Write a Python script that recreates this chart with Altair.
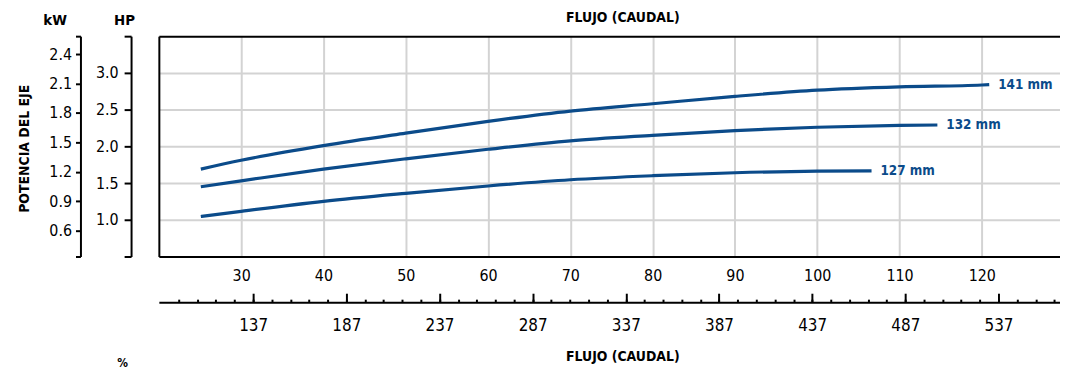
import altair as alt
import pandas as pd

# ---- data ----
diameters = ["141 mm", "132 mm", "127 mm"]
flow_141 = [25.1, 30, 40, 50, 60, 70, 80, 90, 100, 110, 120, 120.9]
hp_141 = [1.69, 1.81, 2.01, 2.18, 2.34, 2.48, 2.58, 2.68, 2.765, 2.81, 2.835, 2.84]
flow_132 = [25.1, 30, 40, 50, 60, 70, 80, 90, 100, 110, 114.6]
hp_132 = [1.45, 1.53, 1.69, 1.83, 1.96, 2.075, 2.15, 2.215, 2.26, 2.285, 2.29]
flow_127 = [25.1, 30, 40, 50, 60, 70, 80, 90, 100, 106.6]
hp_127 = [1.045, 1.115, 1.25, 1.36, 1.46, 1.545, 1.60, 1.64, 1.663, 1.667]

flow_ticks = [30, 40, 50, 60, 70, 80, 90, 100, 110, 120]
hp_ticks = [1.0, 1.5, 2.0, 2.5, 3.0]
kw_ticks = [0.6, 0.9, 1.2, 1.5, 1.8, 2.1, 2.4]
alt_ticks = [137, 187, 237, 287, 337, 387, 437, 487, 537]
alt_minor = list(range(97, 568, 10))

flow_domain = [20, 129.5]
hp_domain = [0.5, 3.5]
kw_domain = [0.333, 2.586]
alt_domain = [86.4, 570.0]

FONT = "DejaVu Sans Condensed, Liberation Sans Narrow, sans-serif"
BLUE = "#0b4b8a"
GRID = "#d3d3d3"

rows = []
for name, fx, hy in zip(diameters, [flow_141, flow_132, flow_127], [hp_141, hp_132, hp_127]):
    for f, h in zip(fx, hy):
        rows.append({"diam": name, "flow": f, "hp": h})
curves = pd.DataFrame(rows)
ends = curves.groupby("diam", as_index=False).last()


def fscale():
    return alt.Scale(domain=flow_domain, nice=False, zero=False)


def hscale():
    return alt.Scale(domain=hp_domain, nice=False, zero=False)


lines = alt.Chart(curves).mark_line(color=BLUE, strokeWidth=3.2, interpolate="monotone").encode(
    x=alt.X("flow:Q", scale=fscale(), axis=alt.Axis(
        orient="bottom", values=flow_ticks, ticks=False, domain=True, domainColor="black",
        domainWidth=2, labelPadding=19, labelBaseline="middle", labelFont=FONT,
        labelFontSize=16, labelColor="black", grid=True, gridColor=GRID, gridWidth=2,
        title=None)),
    y=alt.Y("hp:Q", scale=hscale(), axis=alt.Axis(
        orient="left", offset=28, values=[0.5] + hp_ticks + [3.5],
        labelExpr="datum.value < 0.9 || datum.value > 3.1 ? '' : format(datum.value, '.1f')",
        tickSize=7, tickWidth=2, tickColor="black", domainColor="black", domainWidth=2,
        grid=False, labelFont=FONT, labelFontSize=16, labelColor="black", labelPadding=6,
        title="HP", titleAngle=0, titleX=-7, titleY=-17, titleAlign="center",
        titleBaseline="middle", titleFont=FONT, titleFontSize=15, titleFontWeight="bold",
        titleColor="black")),
    detail="diam:N",
)

texts = alt.Chart(ends).mark_text(color=BLUE, font=FONT, fontSize=13.5, fontWeight="bold",
                                  align="left", baseline="middle", dx=9).encode(
    x=alt.X("flow:Q", scale=fscale(), axis=None),
    y=alt.Y("hp:Q", scale=hscale(), axis=None),
    text="diam:N",
)

frame_df = pd.DataFrame({"hp": hp_ticks, "flow": flow_ticks[:5]})
frame = alt.Chart(frame_df).mark_point(opacity=0).encode(
    x=alt.X("flow:Q", scale=fscale(), axis=alt.Axis(
        orient="top", ticks=False, labels=False, domain=True, domainColor="black",
        domainWidth=2, grid=False, title="FLUJO (CAUDAL)", titleX=467, titleY=-19,
        titleAlign="center", titleBaseline="middle", titleFont=FONT, titleFontSize=14,
        titleFontWeight="bold", titleColor="black")),
    y=alt.Y("hp:Q", scale=hscale(), axis=alt.Axis(
        orient="left", offset=0, values=hp_ticks, ticks=False, labels=False, domain=True,
        domainColor="black", domainWidth=2, grid=True, gridColor=GRID, gridWidth=2,
        title="POTENCIA DEL EJE", titleAngle=270, titleX=-135, titleY=113,
        titleAlign="center", titleBaseline="middle", titleFont=FONT, titleFontSize=14,
        titleFontWeight="bold", titleColor="black")),
)

kw_df = pd.DataFrame({"kw": kw_ticks})
kw_layer = alt.Chart(kw_df).mark_point(opacity=0).encode(
    y=alt.Y("kw:Q", scale=alt.Scale(domain=kw_domain, nice=False, zero=False), axis=alt.Axis(
        orient="left", offset=79, values=[kw_domain[0]] + kw_ticks + [kw_domain[1]],
        labelExpr="datum.value < 0.5 || datum.value > 2.5 ? '' : format(datum.value, '.1f')",
        tickSize=5, tickWidth=2, tickColor="black", domainColor="black", domainWidth=2,
        grid=False, labelFont=FONT, labelFontSize=16, labelColor="black", labelPadding=4,
        title="kW", titleAngle=0, titleX=-26, titleY=-17, titleAlign="center",
        titleBaseline="middle", titleFont=FONT, titleFontSize=15, titleFontWeight="bold",
        titleColor="black")),
)

minor_df = pd.DataFrame({"q": alt_minor})
minor_layer = alt.Chart(minor_df).mark_point(opacity=0).encode(
    x=alt.X("q:Q", scale=alt.Scale(domain=alt_domain, nice=False, zero=False), axis=alt.Axis(
        orient="top", offset=-268, values=alt_minor, tickSize=3, tickWidth=2,
        tickColor="black", labels=False, domain=True, domainColor="black", domainWidth=2,
        grid=False, title="%", titleX=-37, titleY=61, titleAlign="center",
        titleBaseline="middle", titleFont=FONT, titleFontSize=12, titleFontWeight="bold",
        titleColor="black")),
)

major_df = pd.DataFrame({"q": alt_ticks})
major_layer = alt.Chart(major_df).mark_point(opacity=0).encode(
    x=alt.X("q:Q", scale=alt.Scale(domain=alt_domain, nice=False, zero=False), axis=alt.Axis(
        orient="top", offset=-268, values=alt_ticks, tickSize=9, tickWidth=2,
        tickColor="black", domain=False, grid=False, labelFont=FONT, labelFontSize=17,
        labelColor="black", labelPadding=-33, labelBaseline="middle",
        title="FLUJO (CAUDAL)", titleX=467, titleY=55, titleAlign="center",
        titleBaseline="middle", titleFont=FONT, titleFontSize=14, titleFontWeight="bold",
        titleColor="black")),
)

chart = alt.layer(frame, lines, texts, kw_layer, minor_layer, major_layer).resolve_scale(
    x="independent", y="independent"
).properties(
    width=908, height=222,
    padding={"left": 152, "top": 27, "right": 0, "bottom": 115},
    autosize=alt.AutoSizeParams(type="none"),
).configure_view(stroke=None)

chart.save("out.html", embed_options={"renderer": "svg", "actions": False})
